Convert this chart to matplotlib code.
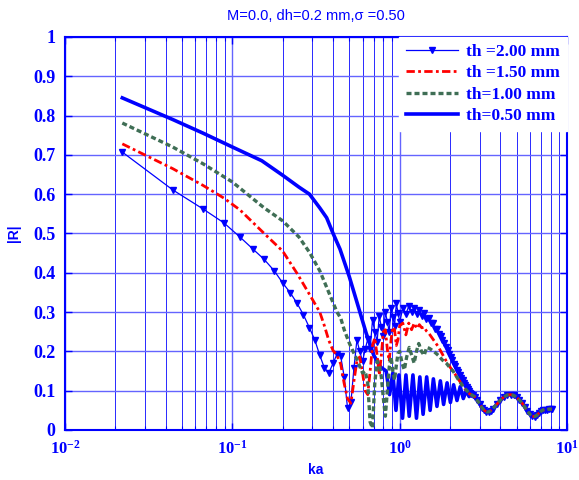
import matplotlib
matplotlib.use('Agg')
import numpy as np
import matplotlib.pyplot as plt
from matplotlib.ticker import LogLocator, FuncFormatter, MultipleLocator, NullFormatter

plt.rcParams['mathtext.fontset'] = 'custom'
plt.rcParams['mathtext.bf'] = 'Liberation Serif:bold'
plt.rcParams['mathtext.rm'] = 'Liberation Serif:bold'

# shared tail (all thicknesses coincide above ka ~ 2.8)
ka_tail = [2.8, 2.9, 3.0, 3.1, 3.2, 3.3, 3.4, 3.5, 3.6, 3.8, 4.0, 4.2, 4.4, 4.6, 4.8, 5.0,
           5.2, 5.4, 5.6, 5.8, 6.0, 6.2, 6.4, 6.6, 6.8, 7.0, 7.2, 7.4, 7.6, 7.8, 8.0, 8.1]
r_tail = [0.085, 0.076, 0.067, 0.057, 0.050, 0.046, 0.046, 0.049, 0.054, 0.065, 0.076, 0.084,
          0.089, 0.090, 0.088, 0.083, 0.076, 0.068, 0.058, 0.048, 0.040, 0.035, 0.034, 0.037,
          0.043, 0.048, 0.051, 0.052, 0.052, 0.053, 0.053, 0.053]

# th = 2.00 mm
ka_20 = [0.022, 0.044, 0.067, 0.089, 0.111, 0.133, 0.155, 0.178, 0.200, 0.222,
         0.244, 0.266, 0.289, 0.311, 0.333, 0.355, 0.377, 0.400, 0.422, 0.444,
         0.466, 0.488, 0.511, 0.533, 0.555, 0.577, 0.600, 0.622, 0.644, 0.666,
         0.688, 0.710, 0.733, 0.755, 0.777, 0.799, 0.821, 0.844, 0.866, 0.888,
         0.910, 0.932, 0.955, 0.977, 1.000, 1.044, 1.089, 1.133, 1.178, 1.222,
         1.266, 1.311, 1.355, 1.400, 1.444, 1.488, 1.533, 1.577, 1.622, 1.666,
         1.710, 1.755, 1.800, 1.844, 1.888, 1.932, 1.977, 2.020, 2.066, 2.110,
         2.154, 2.200, 2.243, 2.287, 2.331, 2.375, 2.420, 2.464, 2.508, 2.552,
         2.596, 2.640, 2.684, 2.728]
r_20 = [0.707, 0.611, 0.562, 0.527, 0.491, 0.460, 0.434, 0.405, 0.374, 0.349,
        0.322, 0.293, 0.260, 0.229, 0.190, 0.158, 0.145, 0.170, 0.193, 0.188,
        0.135, 0.056, 0.070, 0.158, 0.229, 0.200, 0.175, 0.205, 0.231, 0.205,
        0.280, 0.250, 0.225, 0.290, 0.262, 0.240, 0.300, 0.275, 0.250, 0.310,
        0.288, 0.265, 0.322, 0.298, 0.275, 0.310, 0.295, 0.315, 0.300, 0.310,
        0.295, 0.305, 0.290, 0.298, 0.283, 0.285, 0.272, 0.272, 0.258, 0.258,
        0.243, 0.240, 0.228, 0.222, 0.210, 0.203, 0.193, 0.185, 0.177, 0.168,
        0.162, 0.153, 0.147, 0.139, 0.133, 0.126, 0.120, 0.114, 0.109, 0.104,
        0.099, 0.095, 0.092, 0.089]

# th = 1.50 mm
ka_15 = [0.022, 0.044, 0.067, 0.089, 0.111, 0.155, 0.200, 0.244, 0.289, 0.333,
         0.355, 0.377, 0.400, 0.422, 0.444, 0.466, 0.488, 0.511, 0.533, 0.555,
         0.577, 0.600, 0.622, 0.644, 0.666, 0.688, 0.710, 0.733, 0.755, 0.777,
         0.799, 0.821, 0.844, 0.866, 0.888, 0.910, 0.932, 0.955, 0.977, 1.000,
         1.044, 1.089, 1.133, 1.178, 1.222, 1.266, 1.311, 1.355, 1.400, 1.444,
         1.500, 1.600, 1.700, 1.800, 1.900, 2.000, 2.100, 2.200, 2.300, 2.400,
         2.500, 2.600, 2.700]
r_15 = [0.728, 0.665, 0.622, 0.590, 0.560, 0.500, 0.455, 0.398, 0.345, 0.300,
        0.265, 0.228, 0.202, 0.190, 0.168, 0.118, 0.080, 0.068, 0.125, 0.175,
        0.186, 0.145, 0.100, 0.090, 0.150, 0.215, 0.234, 0.190, 0.140, 0.190,
        0.250, 0.255, 0.205, 0.175, 0.230, 0.262, 0.255, 0.215, 0.230, 0.265,
        0.272, 0.242, 0.272, 0.255, 0.272, 0.258, 0.268, 0.260, 0.262, 0.252,
        0.245, 0.228, 0.212, 0.193, 0.175, 0.160, 0.147, 0.135, 0.122, 0.110,
        0.100, 0.093, 0.088]

# th = 1.00 mm
ka_10 = [0.022, 0.044, 0.067, 0.100, 0.155, 0.200, 0.250, 0.289, 0.333, 0.377,
         0.422, 0.444, 0.466, 0.500, 0.533, 0.555, 0.577, 0.600, 0.622, 0.644,
         0.666, 0.688, 0.710, 0.733, 0.755, 0.777, 0.799, 0.821, 0.844, 0.866,
         0.888, 0.910, 0.932, 0.955, 0.977, 1.000, 1.033, 1.066, 1.100, 1.140,
         1.180, 1.220, 1.260, 1.300, 1.350, 1.400, 1.450, 1.500, 1.600, 1.700,
         1.800, 1.900, 2.000, 2.100, 2.250, 2.400, 2.600, 2.700]
r_10 = [0.781, 0.720, 0.677, 0.631, 0.565, 0.532, 0.491, 0.452, 0.405, 0.350,
        0.300, 0.285, 0.255, 0.221, 0.195, 0.180, 0.162, 0.145, 0.150, 0.120,
        0.020, 0.005, 0.120, 0.175, 0.165, 0.135, 0.080, 0.035, 0.100, 0.160,
        0.186, 0.150, 0.127, 0.165, 0.195, 0.200, 0.170, 0.153, 0.185, 0.210,
        0.190, 0.170, 0.200, 0.220, 0.200, 0.190, 0.210, 0.208, 0.200, 0.190,
        0.178, 0.170, 0.158, 0.148, 0.127, 0.110, 0.094, 0.089]

# th = 0.50 mm
ka_05 = [0.022, 0.044, 0.067, 0.100, 0.150, 0.200, 0.250, 0.289, 0.333, 0.366,
         0.400, 0.440, 0.500, 0.560, 0.630, 0.700, 0.770, 0.830, 0.870, 0.910,
         0.950, 0.990, 1.040, 1.090, 1.140, 1.200, 1.260, 1.320, 1.380, 1.450,
         1.520, 1.590, 1.670, 1.750, 1.830, 1.920, 2.010, 2.100, 2.200, 2.300,
         2.400, 2.500, 2.600, 2.700]
r_05 = [0.845, 0.790, 0.755, 0.720, 0.685, 0.648, 0.618, 0.600, 0.565, 0.540,
        0.500, 0.460, 0.390, 0.320, 0.247, 0.190, 0.160, 0.150, 0.090, 0.145,
        0.050, 0.140, 0.030, 0.140, 0.035, 0.140, 0.030, 0.135, 0.040, 0.135,
        0.050, 0.130, 0.060, 0.125, 0.065, 0.120, 0.070, 0.115, 0.075, 0.110,
        0.080, 0.100, 0.085, 0.092]

labels = ['th =2.00 mm', 'th =1.50 mm', 'th=1.00 mm', 'th=0.50 mm']

BLUE = '#0000ff'
GREEN = '#3f6e55'

fig = plt.figure(figsize=(5.79, 4.80), dpi=100)
ax = fig.add_axes([0.1123, 0.1042, 0.8670, 0.8188])

h20, = ax.plot(ka_20 + ka_tail, r_20 + r_tail, color=BLUE, lw=0.9, marker='v', ms=5,
               mfc=BLUE, mec=BLUE, zorder=3)
h05, = ax.plot(ka_05 + ka_tail, r_05 + r_tail, color=BLUE, lw=2.6, zorder=4)
h15, = ax.plot(ka_15 + ka_tail, r_15 + r_tail, color='red', lw=2.0,
               linestyle=(0, (3, 1.2, 1, 1.2)), zorder=5)
h10, = ax.plot(ka_10 + ka_tail, r_10 + r_tail, color=GREEN, lw=2.4,
               linestyle=(0, (1.5, 0.9)), zorder=6)

ax.set_xscale('log')
ax.set_xlim(1e-2, 1e1)
ax.set_ylim(0, 1)
ax.xaxis.set_major_locator(LogLocator(base=10, numticks=10))
ax.xaxis.set_minor_locator(LogLocator(base=10, subs=np.arange(2, 10), numticks=20))
ax.xaxis.set_minor_formatter(NullFormatter())
ax.xaxis.set_major_formatter(FuncFormatter(lambda v, p: r'$\mathbf{10^{%d}}$' % round(np.log10(v))))
ax.yaxis.set_major_locator(MultipleLocator(0.1))
ax.yaxis.set_major_formatter(FuncFormatter(lambda v, p: '%g' % round(v, 1)))

ax.set_axisbelow(True)
ax.grid(which='major', axis='both', color='#6464ff', lw=1.0)
ax.grid(which='minor', axis='x', color='#2828ff', lw=0.7)

ax.tick_params(which='both', direction='in', top=True, right=True, colors=BLUE)
ax.tick_params(which='major', length=5, width=1.0, pad=7, labelsize=12)
ax.tick_params(which='minor', length=3, width=0.8)
for lab in ax.get_yticklabels():
    lab.set_fontfamily('Liberation Serif')
    lab.set_fontweight('bold')
    lab.set_fontsize(13)
for sp in ax.spines.values():
    sp.set_color(BLUE)
    sp.set_linewidth(1.5)

ax.set_title('M=0.0, dh=0.2 mm,σ =0.50', color=BLUE, fontsize=10.5,
             fontfamily='Liberation Sans', pad=12)
ax.set_xlabel('ka', color=BLUE, fontsize=10, fontweight='bold',
              fontfamily='Liberation Sans', labelpad=4)
ax.set_ylabel('|R|', color=BLUE, fontsize=10, fontweight='bold',
              fontfamily='Liberation Sans', labelpad=9)

leg = ax.legend([h20, h15, h10, h05], labels, loc='upper right', borderaxespad=0,
                handlelength=3.0, handletextpad=0.45, labelspacing=0.3,
                fancybox=False, framealpha=1, edgecolor='white',
                prop={'family': 'Liberation Serif', 'weight': 'bold', 'size': 12.5})
for t in leg.get_texts():
    t.set_color(BLUE)

fig.savefig('out.png', dpi=100, facecolor='white')
